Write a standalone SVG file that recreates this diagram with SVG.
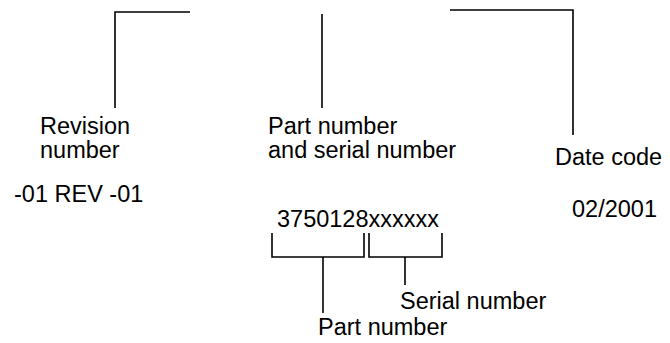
<svg xmlns="http://www.w3.org/2000/svg" width="670" height="343" viewBox="0 0 670 343">
<style>
.ln{fill:none;stroke:#000;stroke-width:1.6}
text{font-family:"Liberation Sans",Arial,sans-serif;font-size:23.5px;fill:#000}
</style>
<rect width="670" height="343" fill="#fff"/>
<g id="connectors">
<polyline class="ln" points="190,12 115,12 115,108"/>
<line class="ln" x1="322" y1="14" x2="322" y2="108"/>
<polyline class="ln" points="450,10 573,10 573,135"/>
<polyline class="ln" points="272,233 272,257 364,257 364,233"/>
<polyline class="ln" points="369,233 369,257 442,257 442,233"/>
<line class="ln" x1="323" y1="257" x2="323" y2="313"/>
<line class="ln" x1="405" y1="257" x2="405" y2="285"/>
</g>
<g id="revision"><text x="40" y="134">Revision</text><text x="40" y="158">number</text></g>
<g id="part-serial"><text x="268" y="134">Part number</text><text x="268" y="158">and serial number</text></g>
<g id="date-code"><text x="555" y="165">Date code</text></g>
<g id="rev-value"><text x="14" y="202">-01 REV -01</text></g>
<g id="date-value"><text x="572" y="217">02/2001</text></g>
<g id="number-value"><text x="277" y="227">3750128xxxxxx</text></g>
<g id="serial-label"><text x="400" y="309">Serial number</text></g>
<g id="part-label"><text x="318" y="335">Part number</text></g>
</svg>
